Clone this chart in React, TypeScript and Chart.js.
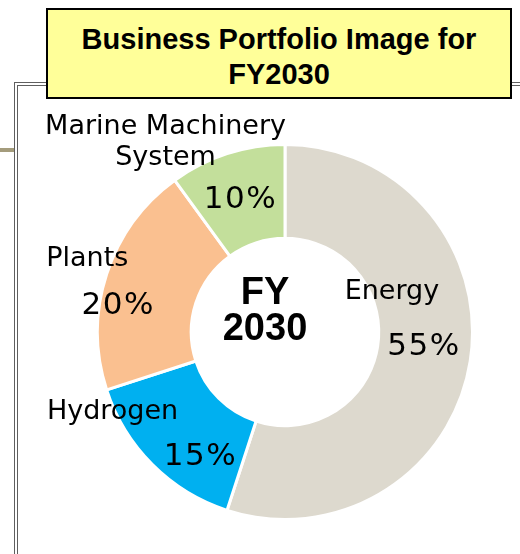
import React, { useEffect, useRef } from "react";
import { Chart, registerables } from "chart.js";

Chart.register(...registerables);

const categories = ["Energy", "Hydrogen", "Plants", "Marine Machinery System"];
const nameLines = [["Energy"], ["Hydrogen"], ["Plants"], ["Marine Machinery", "System"]];
const shares = [55, 15, 20, 10];
const sliceColors = ["#DDD9CE", "#00B0F0", "#FAC090", "#C3DF9B"];
const centerLines = ["FY", "2030"];
const titleLines = ["Business Portfolio Image for", "FY2030"];

// label nudges relative to each slice's mid-ring point (style only)
const pctNudge = [[0, -7], [15, 26], [-33, 17], [-1, 2]];
const nameNudge = [[-32, -62], [-73, -19], [-64, -30], [-76, -71]];

const labelPlugin = {
  id: "sliceLabels",
  afterDatasetsDraw(chart: any) {
    const ctx = chart.ctx;
    const meta = chart.getDatasetMeta(0);
    ctx.save();
    ctx.fillStyle = "#000";
    ctx.textAlign = "center";
    ctx.textBaseline = "middle";
    let cx = 0, cy = 0;
    meta.data.forEach((arc: any, i: number) => {
      const p = arc.getProps(["x", "y", "startAngle", "endAngle", "innerRadius", "outerRadius"], true);
      cx = p.x; cy = p.y;
      const mid = (p.startAngle + p.endAngle) / 2;
      const r = (p.innerRadius + p.outerRadius) / 2;
      const mx = p.x + Math.cos(mid) * r;
      const my = p.y + Math.sin(mid) * r;
      ctx.font = '31px "DejaVu Sans"';
      (ctx as any).letterSpacing = "1.5px";
      ctx.fillText(shares[i] + "%", mx + pctNudge[i][0], my + pctNudge[i][1]);
      (ctx as any).letterSpacing = "0px";
      ctx.font = '27px "DejaVu Sans"';
      nameLines[i].forEach((t, k) => {
        ctx.fillText(t, mx + nameNudge[i][0], my + nameNudge[i][1] + k * 31);
      });
    });
    ctx.font = 'bold 38px "Liberation Sans"';
    centerLines.forEach((t, k) => {
      ctx.fillText(t, cx - 20, cy - 38 + k * 36);
    });
    ctx.restore();
  },
};

export default function App() {
  const ref = useRef<HTMLCanvasElement>(null);
  useEffect(() => {
    if (!ref.current) return;
    const chart = new Chart(ref.current, {
      type: "doughnut",
      data: {
        labels: categories,
        datasets: [
          {
            data: shares,
            backgroundColor: sliceColors,
            borderColor: "#ffffff",
            borderWidth: 3,
          },
        ],
      },
      options: {
        responsive: false,
        animation: false,
        cutout: "50%",
        layout: { padding: { left: 96, top: 143, right: 46, bottom: 33 } },
        plugins: { legend: { display: false }, tooltip: { enabled: false } },
      },
      plugins: [labelPlugin],
    });
    return () => chart.destroy();
  }, []);

  return (
    <div style={{ position: "absolute", left: 0, top: 0, width: 520, height: 554, overflow: "hidden", background: "#fff" }}>
      <div style={{ position: "absolute", left: 14, top: 82, width: 600, height: 600, border: "1px solid #5f5f5f" }} />
      <div style={{ position: "absolute", left: 17, top: 85, width: 600, height: 600, border: "1px solid #5f5f5f" }} />
      <div style={{ position: "absolute", left: 0, top: 148, width: 14, height: 4, background: "#a49c7c" }} />
      <canvas ref={ref} width={520} height={554} style={{ position: "absolute", left: 0, top: 0 }} />
      <div
        style={{
          position: "absolute",
          left: 46,
          top: 8,
          width: 462,
          border: "2px solid #000",
          background: "#FFFF99",
          fontFamily: '"Liberation Sans", Arial, sans-serif',
          fontWeight: "bold",
          fontSize: 29,
          lineHeight: "35px",
          textAlign: "center",
          paddingTop: 12,
          boxSizing: "content-box",
          height: 75,
        }}
      >
        {titleLines.map((t) => (
          <div key={t}>{t}</div>
        ))}
      </div>
    </div>
  );
}
